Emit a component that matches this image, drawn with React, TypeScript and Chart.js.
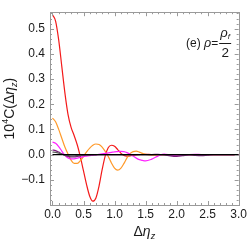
import React, { useEffect, useRef } from "react";
import { Chart, registerables } from "chart.js";

Chart.register(...registerables);

const etaGrid = [
  0, 0.05, 0.1, 0.15, 0.2, 0.25, 0.3, 0.35, 0.4, 0.45, 0.5, 0.55, 0.6, 0.65, 0.7, 0.75,
  0.8, 0.85, 0.9, 0.95, 1.0, 1.05, 1.1, 1.15, 1.2, 1.25, 1.3, 1.35, 1.4, 1.45, 1.5,
  1.6, 1.7, 1.8, 1.9, 2.0, 2.1, 2.2, 2.3, 2.4, 2.5, 2.6, 2.7, 2.8, 2.9, 3.0,
];

const redSeries = [
  0.555, 0.53, 0.455, 0.35, 0.245, 0.16, 0.108, 0.075, 0.038, -0.01, -0.065, -0.12, -0.165, -0.185, -0.172, -0.125,
  -0.06, -0.005, 0.028, 0.037, 0.033, 0.02, 0.006, -0.003, -0.006, -0.005, -0.003, -0.001, 0, 0.001, 0.001,
  0, 0, 0, 0, 0, 0, 0, 0, 0, 0, 0, 0, 0, 0, 0,
];

const orangeSeries = [
  0.145, 0.13, 0.1, 0.065, 0.03, 0.002, -0.022, -0.035, -0.035, -0.024, -0.007, 0.011, 0.026, 0.037, 0.042, 0.04,
  0.03, 0.013, -0.008, -0.033, -0.054, -0.062, -0.055, -0.036, -0.013, 0.004, 0.012, 0.014, 0.01, 0.005, 0.001,
  -0.002, -0.002, 0, 0, 0, 0, 0, 0, 0, 0, 0, 0, 0, 0, 0,
];

const magentaSeries = [
  0.05, 0.045, 0.032, 0.014, -0.003, -0.013, -0.017, -0.017, -0.014, -0.011, -0.008, -0.006, -0.004, -0.003, -0.001, 0.001,
  0.003, 0.005, 0.007, 0.009, 0.011, 0.012, 0.013, 0.012, 0.008, 0.002, -0.006, -0.014, -0.02, -0.023, -0.025,
  -0.018, -0.006, 0.002, -0.002, -0.005, -0.003, 0, 0.001, 0, 0, 0, 0, 0, 0, 0,
];

const purpleSeries = [
  0.018, 0.016, 0.01, 0.003, -0.003, -0.007, -0.009, -0.009, -0.007, -0.005, -0.003, -0.002, -0.002, -0.001, -0.001, 0,
  0, 0, 0, 0, 0, 0, 0, 0, 0, 0, 0, 0, 0, 0, 0,
  0, 0.001, -0.001, -0.005, -0.007, -0.004, -0.001, -0.003, -0.004, -0.002, 0, 0, 0, 0, 0,
];

const graySeries = [
  0.01, 0.009, 0.006, 0.002, -0.002, -0.004, -0.005, -0.005, -0.004, -0.003, -0.002, -0.001, -0.001, 0, 0, 0,
  0, 0, 0, 0, 0, 0, 0, 0, 0, 0, 0, 0, 0, 0, 0,
  0, 0, 0, 0, 0, 0, 0, 0, 0, 0, 0, 0, 0, 0, 0,
];

const baselineX = [0, 3];
const baselineY = [0, 0];

const xTickValues = [0, 0.5, 1.0, 1.5, 2.0, 2.5, 3.0];
const yTickValues = [-0.1, 0, 0.1, 0.2, 0.3, 0.4, 0.5];

const FONT = '"Liberation Sans", Arial, sans-serif';

type Seg = { t: string; size: number; italic?: boolean; dy?: number };

function drawSegs(ctx: CanvasRenderingContext2D, segs: Seg[], x: number, y: number, align: "center" | "left") {
  let total = 0;
  const widths = segs.map((s) => {
    ctx.font = `${s.italic ? "italic " : ""}${s.size}px ${FONT}`;
    const w = ctx.measureText(s.t).width;
    total += w;
    return w;
  });
  let cx = align === "center" ? x - total / 2 : x;
  segs.forEach((s, i) => {
    ctx.font = `${s.italic ? "italic " : ""}${s.size}px ${FONT}`;
    ctx.fillText(s.t, cx, y + (s.dy || 0));
    cx += widths[i];
  });
  return total;
}

const framePlugin = {
  id: "frameTicks",
  afterDatasetsDraw(chart: any) {
    const { ctx, chartArea: a, scales } = chart;
    const xs = scales.x;
    const ys = scales.y;
    ctx.save();
    ctx.strokeStyle = "#9a9a9a";
    ctx.lineWidth = 1;
    ctx.strokeRect(Math.round(a.left) + 0.5, Math.round(a.top) + 0.5, Math.round(a.right - a.left), Math.round(a.bottom - a.top));
    ctx.beginPath();
    for (let i = 0; i <= 30; i++) {
      const v = i * 0.1;
      const px = Math.round(xs.getPixelForValue(v)) + 0.5;
      const len = i % 5 === 0 ? 4 : 2;
      ctx.moveTo(px, a.bottom);
      ctx.lineTo(px, a.bottom - len);
      ctx.moveTo(px, a.top);
      ctx.lineTo(px, a.top + len);
    }
    for (let i = -9; i <= 28; i++) {
      const v = i * 0.02;
      if (v < ys.min || v > ys.max) continue;
      const py = Math.round(ys.getPixelForValue(v)) + 0.5;
      const len = i % 5 === 0 ? 4 : 2;
      ctx.moveTo(a.left, py);
      ctx.lineTo(a.left + len, py);
      ctx.moveTo(a.right, py);
      ctx.lineTo(a.right - len, py);
    }
    ctx.stroke();
    ctx.restore();
  },
  afterDraw(chart: any) {
    const { ctx, chartArea: a } = chart;
    ctx.save();
    ctx.fillStyle = "#1a1a1a";
    ctx.textBaseline = "alphabetic";
    // y title
    ctx.save();
    ctx.translate(14, (a.top + a.bottom) / 2);
    ctx.rotate(-Math.PI / 2);
    drawSegs(
      ctx,
      [
        { t: "10", size: 14 },
        { t: "4", size: 9, dy: -6 },
        { t: "C(Δ", size: 14 },
        { t: "η", size: 14, italic: true },
        { t: "z", size: 9, italic: true, dy: 3 },
        { t: ")", size: 14 },
      ],
      0,
      0,
      "center"
    );
    ctx.restore();
    // x title
    drawSegs(
      ctx,
      [
        { t: "Δ", size: 14 },
        { t: "η", size: 14, italic: true },
        { t: "z", size: 9, italic: true, dy: 3 },
      ],
      (a.left + a.right) / 2,
      236,
      "center"
    );
    // annotation
    const w = drawSegs(
      ctx,
      [
        { t: "(e) ", size: 12 },
        { t: "ρ", size: 12.5, italic: true },
        { t: "=", size: 12 },
      ],
      186,
      47,
      "left"
    );
    const fx = 186 + w + 1;
    const fw = 12;
    drawSegs(
      ctx,
      [
        { t: "ρ", size: 13, italic: true },
        { t: "f", size: 8, italic: true, dy: 2 },
      ],
      fx + fw / 2,
      37,
      "center"
    );
    ctx.strokeStyle = "#1a1a1a";
    ctx.lineWidth = 1;
    ctx.beginPath();
    ctx.moveTo(fx, 43.5);
    ctx.lineTo(fx + fw, 43.5);
    ctx.stroke();
    drawSegs(ctx, [{ t: "2", size: 13.5 }], fx + fw / 2, 56.5, "center");
    ctx.restore();
  },
};

export default function App() {
  const ref = useRef<HTMLCanvasElement | null>(null);
  useEffect(() => {
    if (!ref.current) return;
    const mk = (ys: number[], color: string, width = 1.2) => ({
      data: etaGrid.map((x, i) => ({ x, y: ys[i] })),
      borderColor: color,
      borderWidth: width,
      pointRadius: 0,
      cubicInterpolationMode: "monotone" as const,
      fill: false,
    });
    const chart = new Chart(ref.current, {
      type: "line",
      data: {
        datasets: [
          {
            data: baselineX.map((x, i) => ({ x, y: baselineY[i] })),
            borderColor: "#000000",
            borderWidth: 1.3,
            pointRadius: 0,
            fill: false,
          },
          mk(graySeries, "#5a5a5a"),
          mk(purpleSeries, "#7a1a7a"),
          mk(magentaSeries, "#ff22ff"),
          mk(orangeSeries, "#ff9a2a"),
          mk(redSeries, "#f41a1a"),
        ],
      },
      options: {
        animation: false,
        responsive: false,
        maintainAspectRatio: false,
        layout: { padding: { top: 12, right: 7, left: 0, bottom: 0 } },
        plugins: { legend: { display: false }, tooltip: { enabled: false } },
        scales: {
          x: {
            type: "linear",
            min: -0.04,
            max: 3.0,
            grid: { display: false, drawTicks: false },
            border: { display: false },
            afterFit: (s: any) => {
              s.height = 44;
            },
            afterBuildTicks: (s: any) => {
              s.ticks = xTickValues.map((value) => ({ value }));
            },
            ticks: {
              padding: 2,
              color: "#1a1a1a",
              font: { family: FONT, size: 12 },
              maxRotation: 0,
              callback: (v: any) => Number(v).toFixed(1),
            },
          },
          y: {
            type: "linear",
            min: -0.2,
            max: 0.565,
            grid: { display: false, drawTicks: false },
            border: { display: false },
            afterFit: (s: any) => {
              s.width = 50;
            },
            afterBuildTicks: (s: any) => {
              s.ticks = yTickValues.map((value) => ({ value }));
            },
            ticks: {
              padding: 5,
              color: "#1a1a1a",
              font: { family: FONT, size: 12 },
              callback: (v: any) => {
                const n = Number(v);
                const s = Math.abs(n).toFixed(1);
                return n < -1e-9 ? "\u2212" + s : s;
              },
            },
          },
        },
      },
      plugins: [framePlugin],
    });
    return () => chart.destroy();
  }, []);
  return (
    <div style={{ position: "fixed", left: 0, top: 0, width: 249, height: 249, background: "#fff" }}>
      <canvas ref={ref} width={249} height={249} style={{ width: 249, height: 249, display: "block" }} />
    </div>
  );
}
